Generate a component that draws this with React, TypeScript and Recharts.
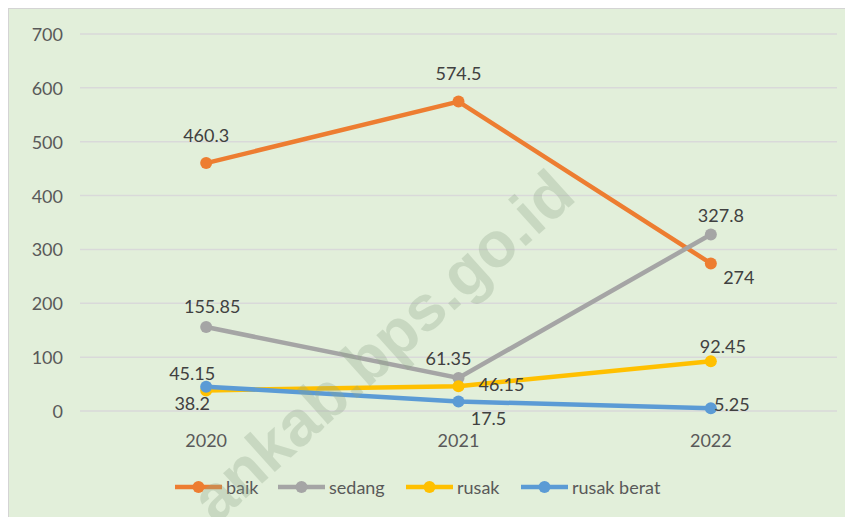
import React from 'react';
import { LineChart, Line, XAxis, YAxis, CartesianGrid, LabelList } from 'recharts';

const years = ['2020', '2021', '2022'];
const baik = [460.3, 574.5, 274];
const sedang = [155.85, 61.35, 327.8];
const rusak = [38.2, 46.15, 92.45];
const rusakBerat = [45.15, 17.5, 5.25];
const yTicks = [0, 100, 200, 300, 400, 500, 600, 700];

const seriesKeys = ['baik', 'sedang', 'rusak', 'rusakBerat'];
const seriesNames = ['baik', 'sedang', 'rusak', 'rusak berat'];
const seriesColors = ['#ED7D31', '#A5A5A5', '#FFC000', '#5B9BD5'];
const labelOffsets = [
  [[0, -28], [0, -29], [28, 14]],
  [[6, -21], [-10, -20], [10, -19]],
  [[-14, 13], [43, -2], [12, -15]],
  [[-14, -14], [30, 16], [21, -4]],
];
const legendX = [166, 269, 397, 512];

const data = years.map((y, i) => ({
  year: y,
  baik: baik[i],
  sedang: sedang[i],
  rusak: rusak[i],
  rusakBerat: rusakBerat[i],
}));

const FONT = 'Lato, "Noto Sans", sans-serif';

const makeLabel = (si: number) => (props: any) => {
  const { x, y, value, index } = props;
  const off = labelOffsets[si][index] || [0, -20];
  return (
    <text
      x={x + off[0]}
      y={y + off[1]}
      textAnchor="middle"
      dominantBaseline="central"
      fill="#404040"
      fontSize={18}
      fontFamily={FONT}
    >
      {value}
    </text>
  );
};

const YTick = (props: any) => {
  const { x, y, payload } = props;
  return (
    <text x={x} y={y} textAnchor="end" dominantBaseline="central" fill="#595959" fontSize={18} fontFamily={FONT}>
      {payload.value}
    </text>
  );
};

const XTick = (props: any) => {
  const { x, y, payload } = props;
  return (
    <text x={x} y={y + 29} textAnchor="middle" dominantBaseline="central" fill="#595959" fontSize={18} fontFamily={FONT}>
      {payload.value}
    </text>
  );
};

export default function App() {
  return (
    <div
      style={{
        position: 'relative',
        width: 844,
        height: 509,
        background: '#E2EFDA',
        borderLeft: '1px solid #D4D4D4',
        borderTop: '1px solid #D4D4D4',
        overflow: 'hidden',
      }}
    >
      <LineChart
        width={844}
        height={508}
        data={data}
        margin={{ top: 25, right: 16, left: 0, bottom: 0 }}
        style={{ fontFamily: FONT }}
      >
        <CartesianGrid vertical={false} stroke="#D9D9D9" strokeWidth={1.5} />
        <XAxis
          dataKey="year"
          scale="band"
          height={106}
          axisLine={false}
          tickLine={false}
          tickSize={0}
          tickMargin={0}
          tick={<XTick />}
        />
        <YAxis
          width={71}
          domain={[0, 700]}
          ticks={yTicks}
          axisLine={false}
          tickLine={false}
          tickSize={0}
          tickMargin={17}
          tick={<YTick />}
        />
        {seriesKeys.map((k, si) => (
          <Line
            key={k}
            type="linear"
            dataKey={k}
            name={seriesNames[si]}
            stroke={seriesColors[si]}
            strokeWidth={4.5}
            dot={{ r: 6, fill: seriesColors[si], stroke: seriesColors[si], strokeWidth: 0 }}
            activeDot={false}
            isAnimationActive={false}
          >
            <LabelList dataKey={k} content={makeLabel(si)} />
          </Line>
        ))}
      </LineChart>
      <svg
        width={844}
        height={509}
        style={{ position: 'absolute', left: 0, top: 0, pointerEvents: 'none' }}
      >
        {seriesNames.map((n, si) => (
          <g key={n}>
            <line x1={legendX[si]} x2={legendX[si] + 47} y1={478} y2={478} stroke={seriesColors[si]} strokeWidth={4.5} />
            <circle cx={legendX[si] + 23.5} cy={478} r={6} fill={seriesColors[si]} />
            <text x={legendX[si] + 51} y={478} dominantBaseline="central" fill="#595959" fontSize={18} fontFamily={FONT}>
              {n}
            </text>
          </g>
        ))}
        <text
          x={569}
          y={190}
          textAnchor="end"
          transform="rotate(-42 569 190)"
          fill="#8FA68A"
          opacity={0.3}
          fontSize={64}
          fontWeight="bold"
          fontFamily='"Liberation Sans", Arial, sans-serif'
        >
          ankab.bps.go.id
        </text>
      </svg>
    </div>
  );
}
